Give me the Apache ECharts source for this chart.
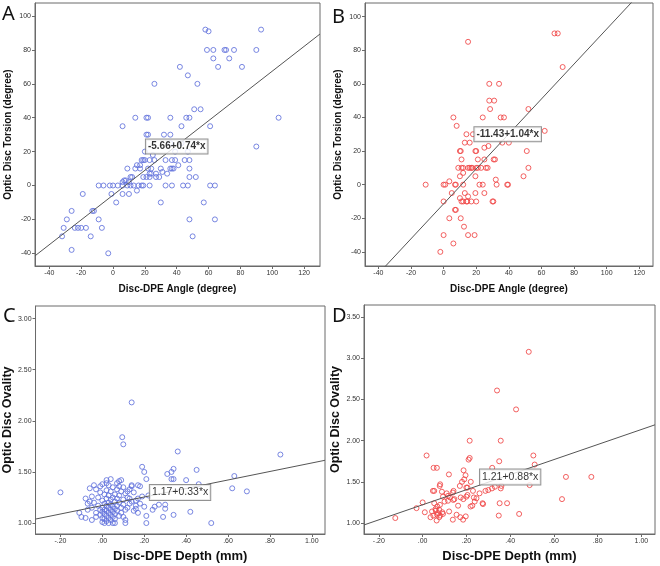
<!DOCTYPE html>
<html><head><meta charset="utf-8">
<script src="https://cdn.jsdelivr.net/npm/echarts@6/dist/echarts.min.js"></script>
<style>html,body{margin:0;padding:0;background:#fff}#c{width:660px;height:566px}</style>
</head><body><div id="c"></div>
<script>
// ---- Data ----
const panelLetters = ['A', 'B', 'C', 'D'];
const xTitles = ['Disc-DPE Angle (degree)', 'Disc-DPE Angle (degree)', 'Disc-DPE Depth (mm)', 'Disc-DPE Depth (mm)'];
const yTitles = ['Optic Disc Torsion (degree)', 'Optic Disc Torsion (degree)', 'Optic Disc Ovality', 'Optic Disc Ovality'];
const fitLabels = ['-5.66+0.74*x', '-11.43+1.04*x', '1.17+0.33*x', '1.21+0.88*x'];
const fitLabelPos = [[40, 23], [39.3, 30], [0.371, 1.30], [0.40, 1.56]];
const xTicksAngle = [-40, -20, 0, 20, 40, 60, 80, 100, 120];
const yTicksTorsion = [-40, -20, 0, 20, 40, 60, 80, 100];
const xTicksDepth = [-0.2, 0, 0.2, 0.4, 0.6, 0.8, 1.0];
const yTicksOvalC = [1.0, 1.5, 2.0, 2.5, 3.0];
const yTicksOvalD = [1.0, 1.5, 2.0, 2.5, 3.0, 3.5];

const fitLineA = [[-49, -41.5], [130, 89.4]];
const fitLineB = [[-50, -63.4], [130, 123.8]];
const fitLineC = [[-0.319, 1.039], [1.063, 1.614]];
const fitLineD = [[-0.268, 0.976], [1.062, 2.193]];

const pointsA = [
[58,92],[60,91],[93,92],[59,80],[63,80],[70,80],[71,80],[76,80],[90,80],[63,75],[73,75],[66,70],[81,70],[42,70],[47,65],[53,60],[26,60],[51,45],[55,45],[104,40],[46,40],[48,40],[36,40],[21,40],[22,40],[14,40],[6,35],[43,35],[61,35],[22,30],[21,30],[32,30],[36,30],[90,23],
[20,20],[25,18],[39,20],[47,20],[43,25],[36,25],
[18,15],[19,15],[20,15],[23,15],[26,15],[33,15],[37,15],[39,15],[45,15],[48,15],
[17,12],[15,12],[41,12],
[9,10],[14,10],[17,10],[22,10],[24,10],[30,10],[36,10],[37,10],[38,10],[48,10],
[27,7],[24,7],[31,8],[34,7],[23,7],
[11,5],[12,5],[19,5],[21,5],[23,5],[27,5],[29,5],[48,5],[52,5],
[7,3],[8,3],[6,2],[10,2],
[-9,0],[-6,0],[-2,0],[0,0],[3,0],[6,0],[9,0],[11,0],[13,0],[16,0],[18,0],[19,0],[23,0],[33,0],[37,0],[44,0],[47,0],[61,0],[64,0],
[-1,-5],[6,-5],[10,-5],[-19,-5],[15,-3],[2,-10],[30,-10],[57,-10],
[-26,-15],[-13,-15],[-12,-15],[-29,-20],[-9,-20],[48,-20],[64,-20],
[-31,-25],[-24,-25],[-22,-25],[-20,-25],[-17,-25],[-7,-25],
[-32,-30],[-14,-30],[50,-30],[-26,-38],[-3,-40]
];
const pointsB = [
[68,90],[70,90],[15,85],[73,70],[28,60],[34,60],[28,50],[31,50],[28.5,45],[52,45],[6,40],[24,40],[35,40],[37,40],[8,35],[14,30],[18,30],[62,32],[13,25],[16,25],[25,22],[27.5,23],[36,25],[40,25],[10,20],[10.5,20],[19.5,20],[20,20],[51,20],[11,15],[21,15],[25,15],[30.7,15],[31.5,15],
[9,10],[11,10],[12,10],[15,10],[16,10],[17,10],[17.5,10],[20,10],[21,10],[23,10],[26,10],[27,10],[52,10],
[10,5],[12,7],[19.5,5],[49,5],
[0,0],[1,0],[-11,0],[3.5,2],[7,0],[7.5,0],[12,0],[22,0],[24,0],[32.5,0],[39,0],[39.5,0],[32,3],
[5,-5],[13,-5],[19.5,-5],[25,-5],[15,-7],[10,-8],
[0,-10],[11,-10],[12,-10],[14,-10],[14.5,-10],[17,-10],[20,-10],[30,-10],[30.5,-10],
[7,-15],[7.5,-15],[3.5,-20],[10.5,-20],[12.5,-25],[0,-30],[15,-30],[19,-30],[6,-35],[-2,-40]
];
const pointsC = [
[-0.20,1.30],[0.14,2.18],[0.095,1.84],[0.10,1.77],[0.36,1.70],[0.85,1.67],[0.19,1.55],[0.20,1.50],[0.31,1.48],[0.33,1.50],[0.34,1.53],[0.33,1.43],[0.34,1.43],[0.40,1.42],[0.45,1.52],[0.46,1.38],[0.42,1.11],[0.52,1.00],[0.63,1.46],[0.62,1.34],[0.69,1.31],[0.21,1.00],[0.34,1.08],[0.29,1.06],[0.30,1.18],[0.30,1.14],[0.27,1.18],[0.24,1.13],[0.25,1.16],[0.20,1.16],[0.21,1.07],[0.21,1.43],[0.17,1.37],[0.14,1.37],[0.14,1.36],[0.12,1.31],[0.19,1.26],[0.18,1.36],[0.22,1.27],[0.16,1.22],[0.16,1.17],[0.17,1.10],[0.16,1.14],[0.13,1.19],[0.11,1.13],[0.11,1.03],[0.11,1.00],[0.10,1.06],[0.09,1.10],[0.12,1.25],
[-0.11,1.10],[-0.10,1.06],[-0.08,1.05],[-0.07,1.19],[-0.07,1.13],[-0.06,1.21],[-0.05,1.26],[-0.05,1.03],[-0.05,1.15],[-0.04,1.37],[-0.04,1.20],[-0.03,1.33],[-0.03,1.10],[-0.03,1.06],[-0.02,1.25],[-0.02,1.17],[-0.01,1.36],[-0.01,1.30],[-0.01,1.13],[-0.01,1.08],[0.00,1.38],[0.00,1.22],[0.00,1.15],[0.00,1.11],[0.00,1.05],[0.00,1.01],[0.01,1.28],[0.01,1.19],[0.01,1.13],[0.01,1.09],[0.01,1.04],[0.01,1.00],[0.02,1.42],[0.02,1.39],[0.02,1.32],[0.02,1.24],[0.02,1.17],[0.02,1.12],[0.02,1.07],[0.02,1.02],[0.03,1.37],[0.03,1.27],[0.03,1.20],[0.03,1.15],[0.03,1.10],[0.03,1.05],[0.03,1.00],[0.04,1.43],[0.04,1.31],[0.04,1.23],[0.04,1.18],[0.04,1.13],[0.04,1.08],[0.04,1.03],[0.05,1.35],[0.05,1.25],[0.05,1.16],[0.05,1.11],[0.05,1.06],[0.06,1.28],[0.06,1.21],[0.06,1.14],[0.06,1.09],[0.06,1.04],[0.07,1.39],[0.07,1.33],[0.07,1.24],[0.07,1.17],[0.07,1.12],[0.08,1.41],[0.08,1.36],[0.08,1.27],[0.08,1.20],[0.08,1.07],[0.09,1.42],[0.09,1.31],[0.09,1.15],[0.10,1.35],[0.10,1.23],[0.10,1.18],[0.11,1.29],[0.12,1.15],[0.13,1.24],[0.14,1.21],[0.15,1.30],[0.15,1.12],[0.17,1.24],[0.18,1.19],[0.05,1.00],[0.06,1.00],[-0.06,1.34],[-0.08,1.24],[0.13,1.33]
];
const pointsD = [
[0.485,3.08],[0.34,2.61],[0.427,2.38],[0.215,2.00],[0.357,2.00],[0.018,1.82],[0.506,1.82],[0.35,1.75],[0.21,1.77],[0.215,1.79],[0.05,1.67],[0.065,1.67],[0.512,1.71],[0.318,1.67],[0.187,1.64],[0.12,1.59],[0.196,1.58],[0.19,1.53],[0.078,1.45],[0.08,1.47],[0.17,1.45],[0.18,1.50],[0.22,1.50],[0.20,1.43],[0.205,1.43],[0.047,1.39],[0.053,1.39],[0.088,1.38],[0.138,1.37],[0.141,1.39],[0.23,1.39],[0.26,1.36],[0.287,1.39],[0.317,1.42],[0.357,1.42],[0.489,1.46],[0.655,1.56],[0.771,1.56],[0.637,1.29],[0.441,1.11],[0.348,1.09],[0.352,1.24],[0.386,1.24],[0.274,1.24],[0.234,1.31],[0.219,1.20],[0.162,1.21],[0.121,1.14],[0.10,1.26],[0.116,1.27],[0.14,1.28],[0.093,1.32],[0.116,1.33],[0.174,1.31],[0.186,1.29],[0.20,1.32],[0.205,1.34],[0.172,1.07],[0.185,1.04],[0.197,1.08],[0.138,1.04],[0.093,1.11],[0.059,1.17],[0.066,1.10],[0.043,1.14],[0.049,1.09],[0.036,1.07],[0.064,1.03],[0.076,1.07],[0.067,1.20],[0.053,1.24],[0.079,1.22],[0.076,1.16],[0.0,1.25],[0.01,1.13],[-0.028,1.18],[-0.125,1.06],[0.11,1.36],[0.227,1.21],[0.238,1.26],[0.246,1.30],[0.276,1.23],[0.30,1.40],[0.33,1.44],[0.36,1.45],[0.09,1.13],[0.07,1.12],[0.06,1.15],[0.08,1.09],[0.155,1.10],[0.145,1.29],[0.125,1.31]
];

// ---- Layout / style ----
const BLUE = '#6272dc', RED = '#f04545', FRAME = '#6a6a6a';
const grids = [
  {left: 35, top: 3, width: 285, height: 263},
  {left: 365, top: 3, width: 288, height: 263},
  {left: 34, top: 306, width: 291, height: 228},
  {left: 364, top: 305, width: 291, height: 229}
];
const xRanges = [[-49, 130], [-48.2, 128.4], [-0.319, 1.063], [-0.268, 1.062]];
const yRanges = [[-47.5, 107.7], [-48.4, 108.1], [0.893, 3.123], [0.866, 3.649]];
const xTicks = [xTicksAngle, xTicksAngle, xTicksDepth, xTicksDepth];
const yTicks = [yTicksTorsion, yTicksTorsion, yTicksOvalC, yTicksOvalD];
const pts = [pointsA, pointsB, pointsC, pointsD];
const lines = [fitLineA, fitLineB, fitLineC, fitLineD];
const colors = [BLUE, RED, BLUE, RED];
const fmtDepth = v => v.toFixed(2).replace('0.', '.');
const fmtInt = v => String(Math.round(v));

const xAxis = [], yAxis = [], series = [];
for (let i = 0; i < 4; i++) {
  const top = i < 2;
  const fmt = top ? fmtInt : fmtDepth;
  xAxis.push({
    type: 'value', gridIndex: i, min: xRanges[i][0], max: xRanges[i][1],
    splitLine: {show: false},
    axisLine: {show: true, onZero: false, lineStyle: {color: FRAME, width: 1}},
    axisTick: {show: true, length: 3, customValues: xTicks[i], lineStyle: {color: FRAME}},
    axisLabel: {customValues: xTicks[i], formatter: fmt, fontSize: 7, color: '#333', margin: 4, fontFamily: 'Liberation Sans'},
    name: xTitles[i], nameLocation: 'middle', nameGap: top ? 18 : 16,
    nameTextStyle: {fontSize: top ? 10 : 13, fontWeight: 'bold', color: '#111', fontFamily: 'Liberation Sans'}
  });
  yAxis.push({
    type: 'value', gridIndex: i, min: yRanges[i][0], max: yRanges[i][1],
    splitLine: {show: false},
    axisLine: {show: true, onZero: false, lineStyle: {color: FRAME, width: 1}},
    axisTick: {show: true, length: 3, customValues: yTicks[i], lineStyle: {color: FRAME}},
    axisLabel: {customValues: yTicks[i], formatter: fmt, fontSize: 7, color: '#333', margin: 4, fontFamily: 'Liberation Sans'},
    name: yTitles[i], nameLocation: 'middle', nameRotate: 90, nameGap: top ? 22 : 19,
    nameTextStyle: {fontSize: top ? 10 : 12.5, fontWeight: 'bold', color: '#111', fontFamily: 'Liberation Sans'}
  });
  series.push({
    type: 'scatter', xAxisIndex: i, yAxisIndex: i, data: pts[i],
    symbol: 'circle', symbolSize: 5,
    itemStyle: {color: 'rgba(0,0,0,0)', borderColor: colors[i], borderWidth: 1, opacity: 0.85},
    silent: true, z: 2
  });
  series.push({
    type: 'line', xAxisIndex: i, yAxisIndex: i, data: lines[i], symbol: 'none', clip: true,
    lineStyle: {color: '#555', width: 1}, silent: true, z: 3
  });
  series.push({
    type: 'scatter', xAxisIndex: i, yAxisIndex: i, data: [fitLabelPos[i]], symbolSize: 0, z: 5,
    label: {
      show: true, position: 'inside', formatter: fitLabels[i],
      fontSize: top ? 10 : 10.5, fontWeight: top ? 'bold' : 'normal', color: '#000',
      fontFamily: 'Liberation Sans',
      backgroundColor: '#fff', borderColor: '#777', borderWidth: 1, padding: [2, 2, 2, 2]
    }, silent: true
  });
}
const letterPos = [[2, 4], [332, 7], [3, 306], [332, 306]];
const option = {
  animation: false,
  backgroundColor: '#fff',
  title: panelLetters.map((t, i) => ({
    text: t, left: letterPos[i][0], top: letterPos[i][1], padding: 0,
    textStyle: {fontSize: 20, fontWeight: 'normal', color: '#111', fontFamily: 'Noto Sans'}
  })),
  grid: grids.map(g => Object.assign({show: true, borderColor: FRAME, borderWidth: 1, backgroundColor: 'transparent', containLabel: false}, g)),
  xAxis, yAxis, series
};
const chart = echarts.init(document.getElementById('c'), null, {renderer: 'canvas'});
chart.setOption(option);
</script></body></html>
